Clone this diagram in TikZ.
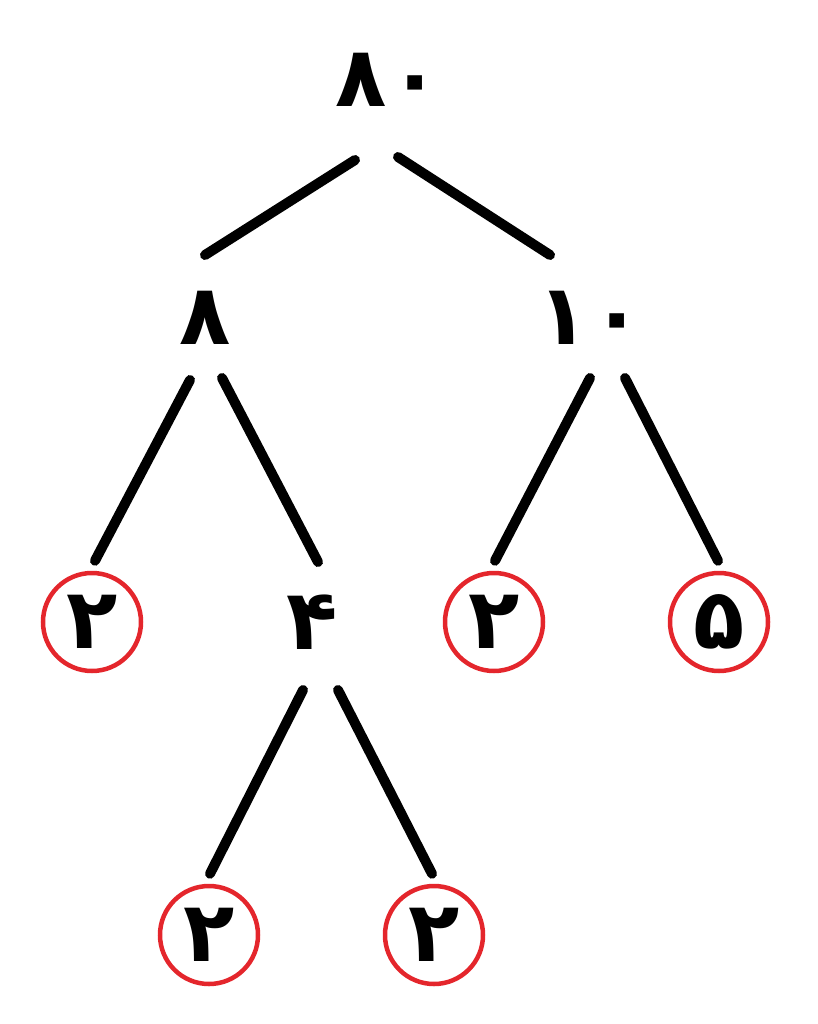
\documentclass[tikz,border=0pt]{standalone}
\usepackage{fontspec}
\newfontfamily\fa[Script=Arabic]{DejaVu Sans Bold}
\usetikzlibrary{calc}
\definecolor{cred}{RGB}{228,38,44}
\tikzset{
  num/.style={font=\fa\fontsize{84}{94}\selectfont, inner sep=0pt},
  leaf/.style={draw=cred, line width=4.5pt, circle, minimum size=98pt, inner sep=0pt,
    label={[num]center:#1}},
  edge/.style={line width=10pt, line cap=round}
}
\begin{document}
\begin{tikzpicture}[x=1pt,y=-1pt]
\useasboundingbox (0,0) rectangle (817,1024);
\node[num] (n80) at (388,80) {۸\hspace{3pt}۰};
\node[num] (n8) at (205,318) {۸};
\node[num] (n10) at (590,318) {۱\hspace{3pt}۰};
\node[leaf=۲] (a) at (92,622) {};
\node[num] (n4) at (312,622) {۴};
\node[leaf=۲] (b) at (494,622) {};
\node[leaf=۵] (c) at (719,622) {};
\node[leaf=۲] (d) at (209,935) {};
\node[leaf=۲] (e) at (434,935) {};
\draw[edge] ($(n80)+(-33,80)$) -- ($(n8)+(0,-63)$);
\draw[edge] ($(n80)+(10,77)$) -- ($(n10)+(-40,-63)$);
\draw[edge] ($(n8)+(-15,62)$) -- ($(a.north)+(3,-10)$);
\draw[edge] ($(n8)+(17,60)$) -- ($(n4)+(6,-60)$);
\draw[edge] ($(n10)+(0,60)$) -- ($(b.north)+(1,-10)$);
\draw[edge] ($(n10)+(35,60)$) -- ($(c.north)+(-1,-10)$);
\draw[edge] ($(n4)+(-9,68)$) -- ($(d.north)+(1,-10)$);
\draw[edge] ($(n4)+(26,68)$) -- ($(e.north)+(-2,-10)$);
\end{tikzpicture}
\end{document}
